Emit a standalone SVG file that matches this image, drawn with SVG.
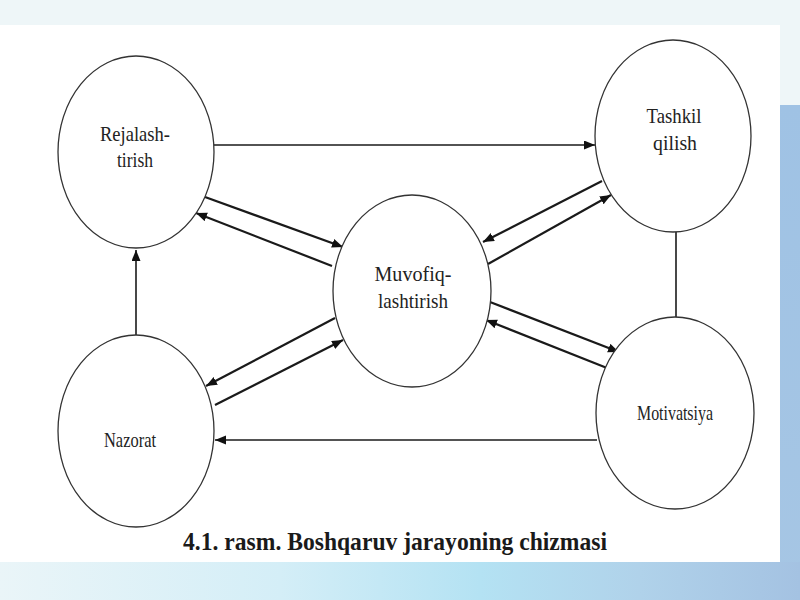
<svg xmlns="http://www.w3.org/2000/svg" width="800" height="600" viewBox="0 0 800 600">
  <defs>
    <linearGradient id="bottomGrad" x1="0" y1="0" x2="1" y2="0">
      <stop offset="0" stop-color="#eaf5f8"/>
      <stop offset="0.35" stop-color="#d4eef7"/>
      <stop offset="0.6" stop-color="#b4e2f3"/>
      <stop offset="0.8" stop-color="#b0d2ea"/>
      <stop offset="1" stop-color="#a4c2e2"/>
    </linearGradient>
    <linearGradient id="rightGrad" x1="0" y1="0" x2="0" y2="1">
      <stop offset="0" stop-color="#9fc2e4"/>
      <stop offset="1" stop-color="#a6c6e4"/>
    </linearGradient>
    <marker id="ah" markerUnits="userSpaceOnUse" markerWidth="12" markerHeight="10" refX="11" refY="4.5" orient="auto">
      <path d="M0,0 L11,4.5 L0,9 z" fill="#111"/>
    </marker>
    <style>
      .node { fill: #ffffff; stroke: #333333; stroke-width: 1.3; }
      .lbl { font-size: 21px; fill: #222222; text-anchor: middle; }
      .edge { stroke: #1a1a1a; stroke-width: 2.2; fill: none; }
      .edge-thin { stroke: #1a1a1a; stroke-width: 1.6; fill: none; }
      .cap { font-size: 26px; font-weight: bold; fill: #1a1a1a; }
    </style>
  </defs>

  <!-- background -->
  <rect x="0" y="0" width="800" height="600" fill="#eef6f8"/>
  <rect x="780" y="105" width="20" height="495" fill="url(#rightGrad)"/>
  <rect x="0" y="562" width="800" height="38" fill="url(#bottomGrad)"/>
  <rect x="0" y="25" width="780" height="537" fill="#ffffff"/>

  <!-- connectors -->
  <g id="connectors">
    <line class="edge-thin" x1="214" y1="145" x2="595" y2="145" marker-end="url(#ah)"/>
    <line class="edge-thin" x1="136" y1="335" x2="136" y2="250" marker-end="url(#ah)"/>
    <line class="edge-thin" x1="676" y1="232" x2="676" y2="318"/>
    <line class="edge-thin" x1="597" y1="440" x2="215" y2="440" marker-end="url(#ah)"/>
    <line class="edge" x1="205" y1="197" x2="343" y2="247" marker-end="url(#ah)"/>
    <line class="edge" x1="332" y1="266" x2="196" y2="213" marker-end="url(#ah)"/>
    <line class="edge" x1="602" y1="181" x2="483" y2="242" marker-end="url(#ah)"/>
    <line class="edge" x1="488" y1="264" x2="611" y2="195" marker-end="url(#ah)"/>
    <line class="edge" x1="335" y1="318" x2="206" y2="386" marker-end="url(#ah)"/>
    <line class="edge" x1="215" y1="405" x2="343" y2="340" marker-end="url(#ah)"/>
    <line class="edge" x1="490" y1="302" x2="619" y2="352" marker-end="url(#ah)"/>
    <line class="edge" x1="607" y1="368" x2="486" y2="320" marker-end="url(#ah)"/>
  </g>

  <!-- nodes -->
  <g id="rejalashtirish" font-family="Liberation Serif, serif">
    <ellipse class="node" cx="136" cy="152" rx="78" ry="96"/>
    <text class="lbl" x="135" y="141" textLength="70" lengthAdjust="spacingAndGlyphs">Rejalash-</text>
    <text class="lbl" x="135" y="167" textLength="36" lengthAdjust="spacingAndGlyphs">tirish</text>
  </g>
  <g id="tashkil" font-family="Liberation Serif, serif">
    <ellipse class="node" cx="673" cy="136" rx="78" ry="96"/>
    <text class="lbl" x="674" y="123" textLength="55" lengthAdjust="spacingAndGlyphs">Tashkil</text>
    <text class="lbl" x="675" y="150" textLength="44" lengthAdjust="spacingAndGlyphs">qilish</text>
  </g>
  <g id="muvofiqlashtirish" font-family="Liberation Serif, serif">
    <ellipse class="node" cx="412" cy="291" rx="79" ry="96"/>
    <text class="lbl" x="413" y="281" textLength="77" lengthAdjust="spacingAndGlyphs">Muvofiq-</text>
    <text class="lbl" x="413" y="308" textLength="70" lengthAdjust="spacingAndGlyphs">lashtirish</text>
  </g>
  <g id="nazorat" font-family="Liberation Serif, serif">
    <ellipse class="node" cx="136" cy="431" rx="78" ry="96"/>
    <text class="lbl" x="130" y="447" textLength="52" lengthAdjust="spacingAndGlyphs">Nazorat</text>
  </g>
  <g id="motivatsiya" font-family="Liberation Serif, serif">
    <ellipse class="node" cx="675" cy="413" rx="79" ry="96"/>
    <text class="lbl" x="675" y="420" textLength="76" lengthAdjust="spacingAndGlyphs" font-size="19">Motivatsiya</text>
  </g>

  <text class="cap" font-family="Liberation Serif, serif" x="183" y="550" textLength="424" lengthAdjust="spacingAndGlyphs">4.1. rasm. Boshqaruv jarayoning chizmasi</text>
</svg>
